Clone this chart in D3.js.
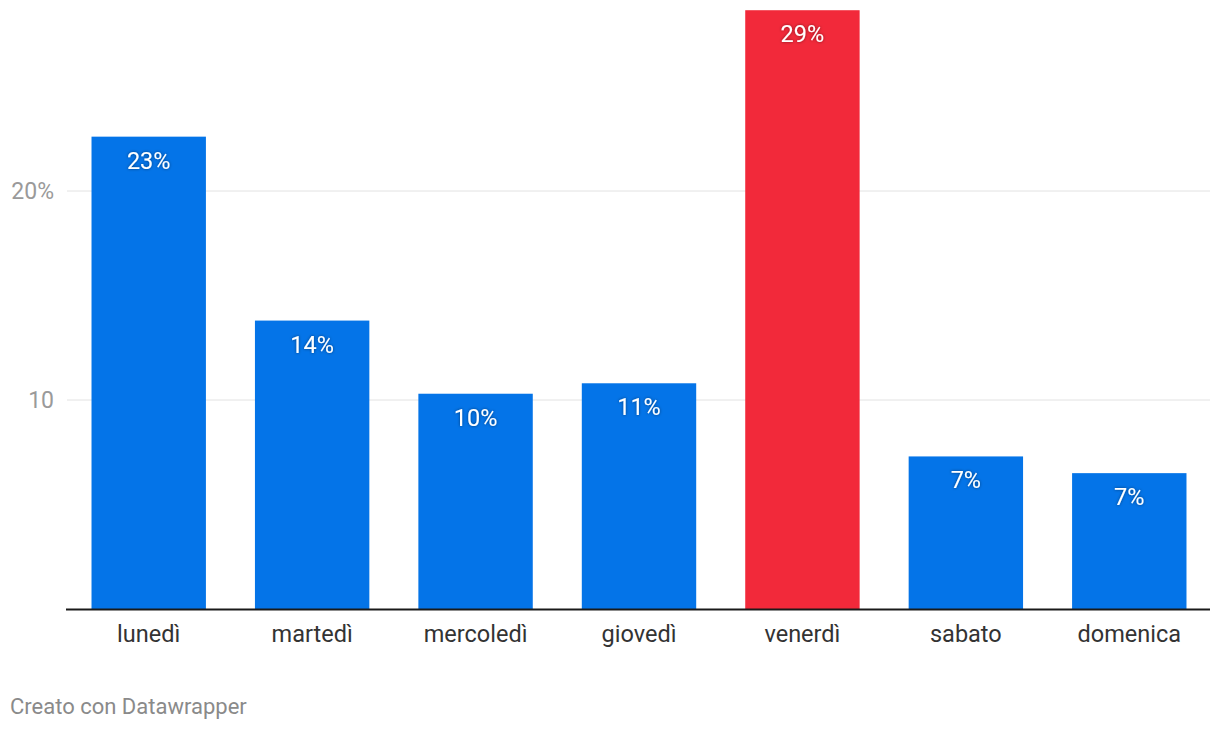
<!DOCTYPE html>
<html><head><meta charset="utf-8">
<script src="https://cdn.jsdelivr.net/npm/d3@7"></script>
<style>body{margin:0;background:#fff;font-family:Roboto,sans-serif}</style>
</head><body><svg id="c" width="1220" height="730"></svg>
<script>
const categories = ["lunedì","martedì","mercoledì","giovedì","venerdì","sabato","domenica"];
const values = [22.6, 13.8, 10.3, 10.8, 28.65, 7.3, 6.5];
const labels = ["23%","14%","10%","11%","29%","7%","7%"];
const highlight = ["venerdì"];
const yTicks = [10, 20];
const yTickLabels = ["10","20%"];

const svg = d3.select("#c");
const defs = svg.append("defs");
const f = defs.append("filter").attr("id","sh").attr("x","-20%").attr("y","-40%").attr("width","140%").attr("height","180%");
f.append("feDropShadow").attr("dx",0).attr("dy",0).attr("stdDeviation",1.5).attr("flood-color","#000").attr("flood-opacity",0.5);

const x = d3.scaleBand().domain(categories).range([67,1211]).paddingInner(0.3).paddingOuter(0.15);
const y = d3.scaleLinear().domain([0,20]).range([609,191]);

const g = svg.append("g");
g.selectAll("line.grid").data(yTicks).join("line").attr("class","grid")
  .attr("x1",67).attr("x2",1210).attr("y1",d=>y(d)).attr("y2",d=>y(d))
  .attr("stroke","#e2e2e2").attr("stroke-width",1);
g.selectAll("text.yt").data(yTicks).join("text").attr("class","yt")
  .attr("x",54).attr("y",d=>y(d)).attr("dy","0.35em").attr("text-anchor","end")
  .attr("fill","#9a9a9a").attr("font-size",23).text((d,i)=>yTickLabels[i]);

g.selectAll("rect.bar").data(values).join("rect").attr("class","bar")
  .attr("x",(d,i)=>x(categories[i])).attr("width",x.bandwidth())
  .attr("y",d=>y(d)).attr("height",d=>y(0)-y(d))
  .attr("fill",(d,i)=>highlight.includes(categories[i])?"#F2293A":"#0474E8");

g.selectAll("text.vl").data(values).join("text").attr("class","vl")
  .attr("x",(d,i)=>x(categories[i])+x.bandwidth()/2).attr("y",d=>y(d)+32)
  .attr("text-anchor","middle").attr("fill","#fff").attr("font-size",23.5)
  .attr("filter","url(#sh)").text((d,i)=>labels[i]);

g.append("line").attr("x1",66).attr("x2",1210).attr("y1",609.5).attr("y2",609.5)
  .attr("stroke","#1a1a1a").attr("stroke-width",2);

g.selectAll("text.xl").data(categories).join("text").attr("class","xl")
  .attr("x",d=>x(d)+x.bandwidth()/2).attr("y",642).attr("text-anchor","middle")
  .attr("fill","#333").attr("font-size",23.5).text(d=>d);

svg.append("text").attr("x",10).attr("y",714).attr("fill","#8a8a8a").attr("font-size",22)
  .text("Creato con Datawrapper");
</script></body></html>
